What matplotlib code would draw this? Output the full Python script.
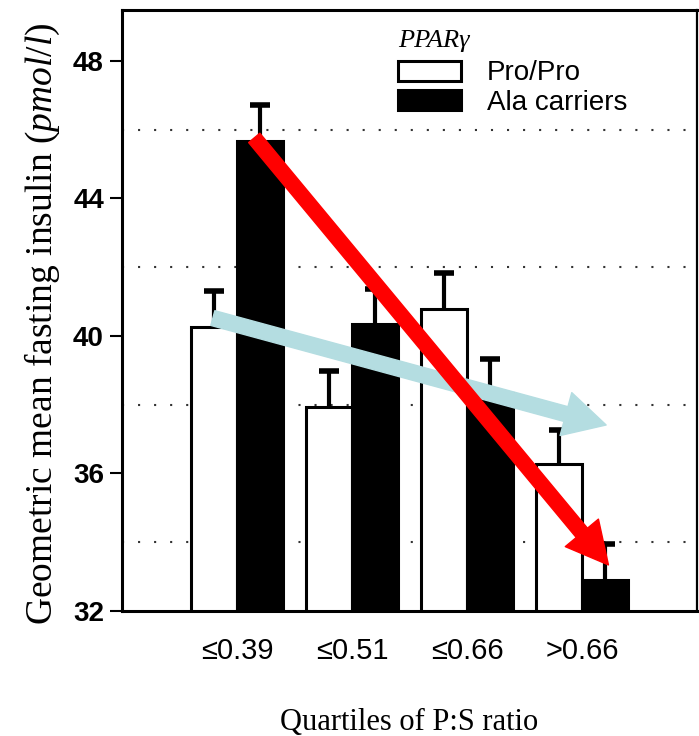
import matplotlib
matplotlib.use('Agg')
import matplotlib.pyplot as plt
from matplotlib.patches import Patch
from matplotlib.font_manager import FontProperties
import numpy as np

# ---- data ----
categories = ['\u22640.39', '\u22640.51', '\u22640.66', '>0.66']
pro_pro = [40.26, 37.93, 40.79, 36.28]
pro_pro_err = [1.05, 1.05, 1.04, 0.99]
ala = [45.67, 40.35, 38.34, 32.90]
ala_err = [1.05, 1.02, 1.00, 1.05]
yticks = [32, 36, 40, 44, 48]
gridlines = [34, 38, 42, 46]
# annotation arrows (data coordinates: start, end)
red_arrow = [(1.15, 45.76), (4.23, 33.34)]
blue_arrow = [(0.79, 40.52), (4.21, 37.41)]

plt.rcParams['font.family'] = ['Liberation Sans', 'DejaVu Sans']
plt.rcParams['mathtext.fontset'] = 'custom'
plt.rcParams['mathtext.rm'] = 'Liberation Serif'
plt.rcParams['mathtext.it'] = 'Liberation Serif:italic'

fig = plt.figure(figsize=(6.99, 7.36), dpi=100)
ax = fig.add_axes([122/699, 1-611/736, (697-122)/699, (611-10)/736])

x = np.arange(1, len(categories) + 1)
w = 0.4
ax.bar(x - w/2, pro_pro, width=w, bottom=0, color='white', edgecolor='black', linewidth=2.2, zorder=2)
ax.bar(x + w/2, ala, width=w, bottom=0, color='black', edgecolor='black', linewidth=2.2, zorder=2)
for xs, vals, errs in [(x - w/2, pro_pro, pro_pro_err), (x + w/2, ala, ala_err)]:
    eb = ax.errorbar(xs, vals, yerr=[np.zeros(len(vals)), errs], fmt='none', ecolor='black',
                     elinewidth=3, capsize=7.5, capthick=4, zorder=3)
    eb[1][0].set_visible(False)  # hide lower caps

for g in gridlines:
    ax.axhline(g, color='#333333', linewidth=1.5, linestyle=(0, (1, 6.7)), zorder=1)

ax.set_xlim(0, 5)
ax.set_ylim(32, 49.48)
ax.set_yticks(yticks)
ax.set_yticklabels([str(t) for t in yticks], fontsize=20, fontweight='bold')
ax.set_xticks(x)
ax.set_xticklabels(categories, fontsize=21)
ax.tick_params(axis='x', length=0, pad=19)
ax.tick_params(axis='y', direction='out', length=9, width=1.5, pad=4)
for s in ['left', 'bottom', 'top']:
    ax.spines[s].set_linewidth(2.2)
ax.spines['right'].set_linewidth(1.6)

ax.set_ylabel('Geometric mean fasting insulin ($\\it{pmol/l}$)', family='Liberation Serif', fontsize=27)
ax.yaxis.set_label_coords(-0.105, 0.477)
ax.set_xlabel('Quartiles of P:S ratio', family='Liberation Serif', fontsize=22)
ax.xaxis.set_label_coords(0.5, -0.162)

# arrows
ax.annotate('', xy=blue_arrow[1], xytext=blue_arrow[0],
            arrowprops=dict(arrowstyle='simple,head_length=30,head_width=32,tail_width=11',
                            mutation_scale=1, color='#b4dde1', shrinkA=0, shrinkB=0), zorder=5)
ax.annotate('', xy=red_arrow[1], xytext=red_arrow[0],
            arrowprops=dict(arrowstyle='simple,head_length=30,head_width=31,tail_width=10.5',
                            mutation_scale=1, color='#ff0000', shrinkA=0, shrinkB=0), zorder=6)

handles = [Patch(facecolor='white', edgecolor='black', linewidth=2.2),
           Patch(facecolor='black', edgecolor='black', linewidth=2.2)]
leg = ax.legend(handles, ['Pro/Pro', 'Ala carriers'], loc='upper left',
                bbox_to_anchor=(398/699, 1-30/736), bbox_transform=fig.transFigure,
                frameon=False, fontsize=20, handlelength=2.25, handleheight=0.72,
                handletextpad=0.95, labelspacing=0.12, borderpad=0, borderaxespad=0,
                title='PPAR\u03b3', alignment='left',
                title_fontproperties=FontProperties(family='Liberation Serif', style='italic', size=19))
leg._legend_box.sep = 6

fig.savefig('out.png', dpi=100)
